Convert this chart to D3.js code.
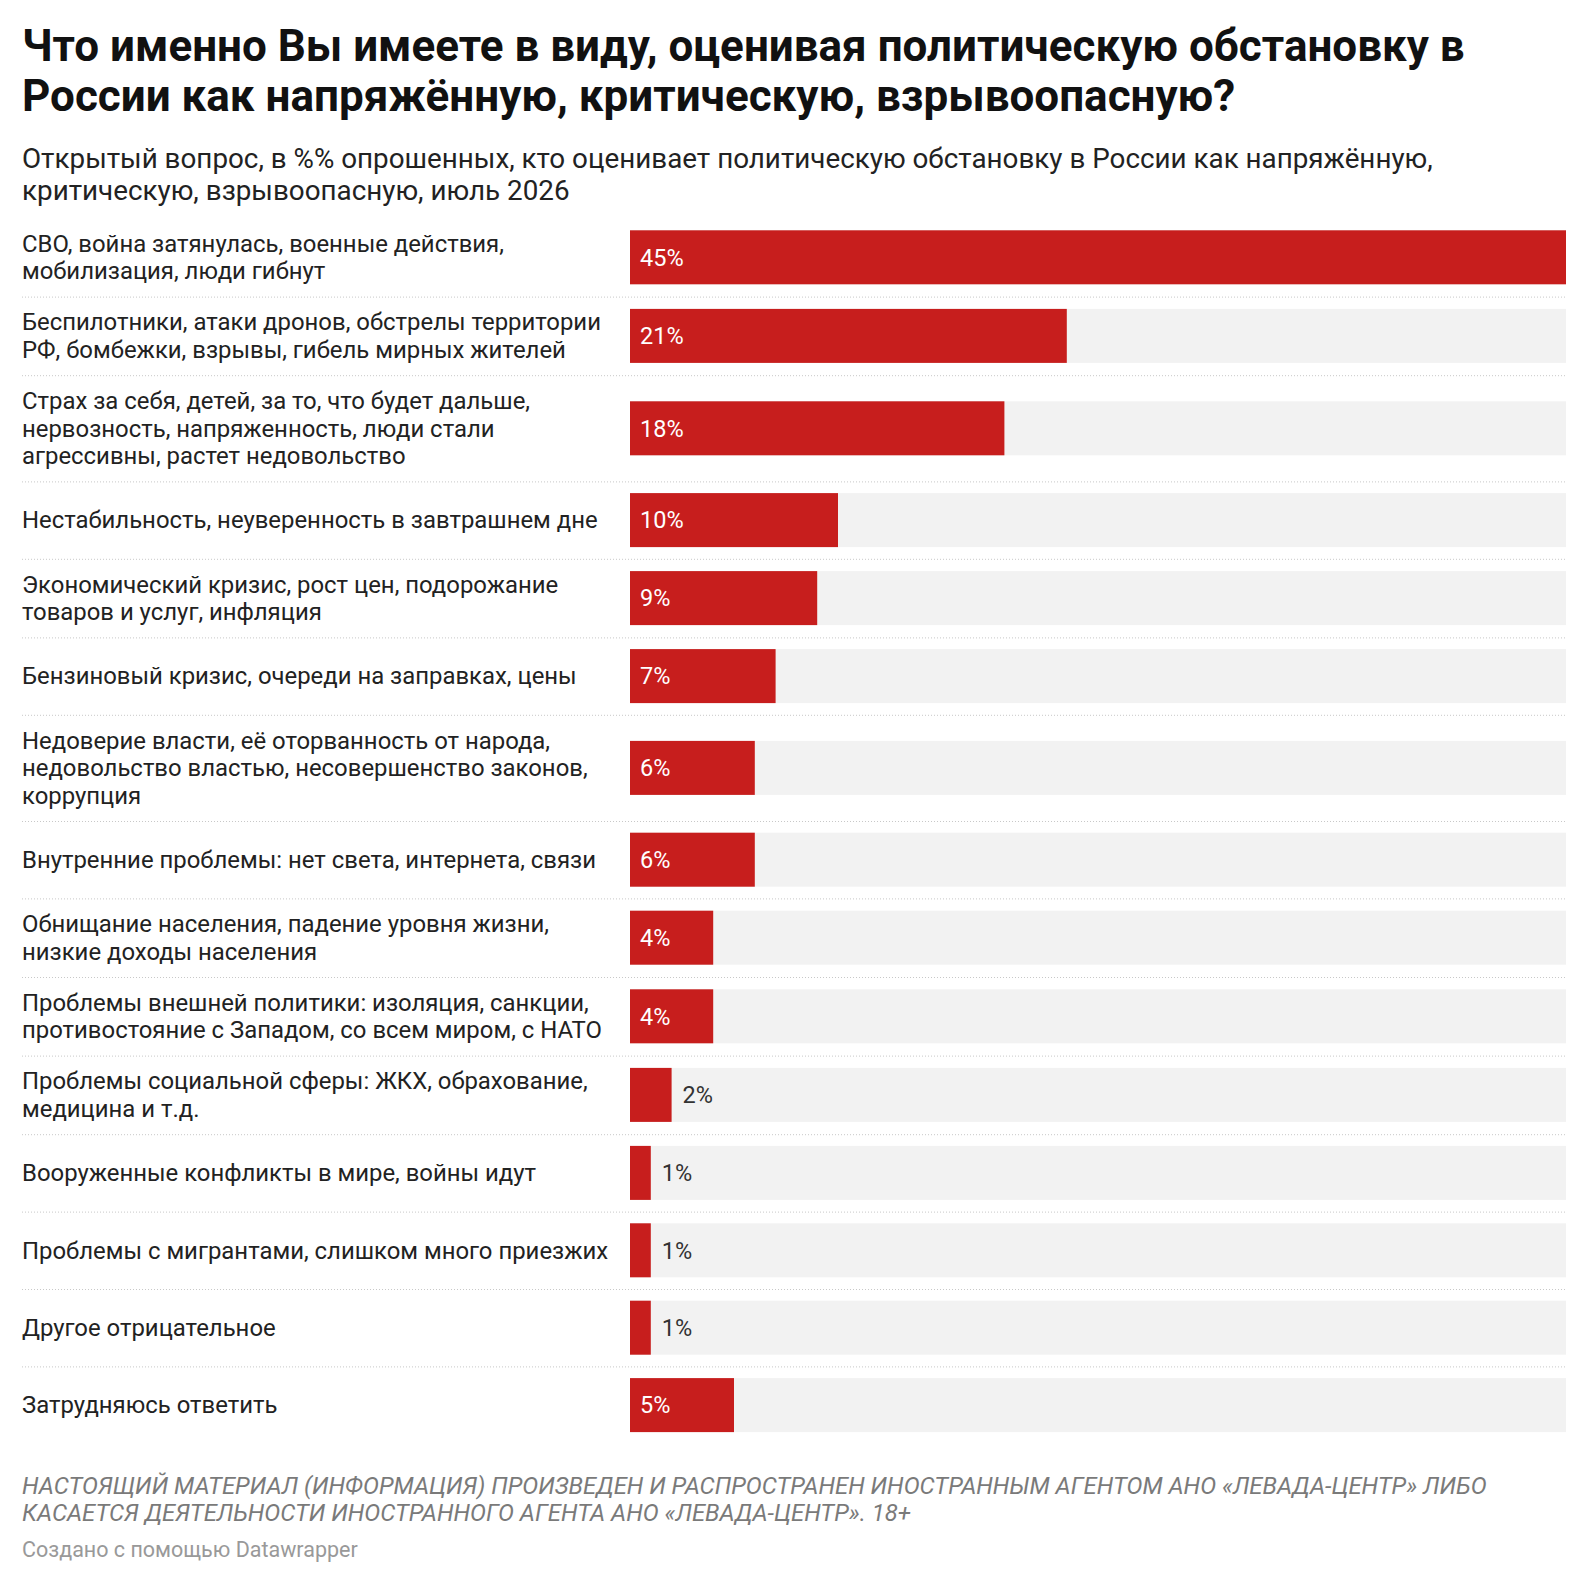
<!DOCTYPE html>
<html>
<head>
<meta charset="utf-8">
<script src="https://cdn.jsdelivr.net/npm/d3@7"></script>
<style>
  body { margin: 0; background: #fff; }
  svg { display: block; }
</style>
</head>
<body>
<div id="chart"></div>
<script>

// categories, each split into the lines shown in the label column
var categories = [
	["СВО, война затянулась, военные действия,", "мобилизация, люди гибнут"],
	["Беспилотники, атаки дронов, обстрелы территории", "РФ, бомбежки, взрывы, гибель мирных жителей"],
	["Страх за себя, детей, за то, что будет дальше,", "нервозность, напряженность, люди стали", "агрессивны, растет недовольство"],
	["Нестабильность, неуверенность в завтрашнем дне"],
	["Экономический кризис, рост цен, подорожание", "товаров и услуг, инфляция"],
	["Бензиновый кризис, очереди на заправках, цены"],
	["Недоверие власти, её оторванность от народа,", "недовольство властью, несовершенство законов,", "коррупция"],
	["Внутренние проблемы: нет света, интернета, связи"],
	["Обнищание населения, падение уровня жизни,", "низкие доходы населения"],
	["Проблемы внешней политики: изоляция, санкции,", "противостояние с Западом, со всем миром, с НАТО"],
	["Проблемы социальной сферы: ЖКХ, обрахование,", "медицина и т.д."],
	["Вооруженные конфликты в мире, войны идут"],
	["Проблемы с мигрантами, слишком много приезжих"],
	["Другое отрицательное"],
	["Затрудняюсь ответить"]
];
var values = [45, 21, 18, 10, 9, 7, 6, 6, 4, 4, 2, 1, 1, 1, 5];

var titleLines = [
	"Что именно Вы имеете в виду, оценивая политическую обстановку в",
	"России как напряжённую, критическую, взрывоопасную?"
];
var subtitleLines = [
	"Открытый вопрос, в %% опрошенных, кто оценивает политическую обстановку в России как напряжённую,",
	"критическую, взрывоопасную, июль 2026"
];
var noteLines = [
	"НАСТОЯЩИЙ МАТЕРИАЛ (ИНФОРМАЦИЯ) ПРОИЗВЕДЕН И РАСПРОСТРАНЕН ИНОСТРАННЫМ АГЕНТОМ АНО «ЛЕВАДА-ЦЕНТР» ЛИБО",
	"КАСАЕТСЯ ДЕЯТЕЛЬНОСТИ ИНОСТРАННОГО АГЕНТА АНО «ЛЕВАДА-ЦЕНТР». 18+"
];
var creditText = "Создано с помощью Datawrapper";

var W = 1588, H = 1586;
var left = 22, barLeft = 630, barRight = 1566;
var barH = 54, lineH = 27.6, rowPad = 23.4;
var font = "Roboto, 'Noto Sans', sans-serif";

var svg = d3.select("#chart").append("svg")
	.attr("width", W)
	.attr("height", H)
	.attr("font-family", font);

// title + subtitle
svg.append("g").selectAll("text")
	.data(titleLines)
	.join("text")
	.attr("x", left)
	.attr("y", function(d, i){ return 61 + i * 50; })
	.attr("font-size", 44)
	.attr("font-weight", 700)
	.attr("fill", "#111")
	.text(function(d){ return d; });

svg.append("g").selectAll("text")
	.data(subtitleLines)
	.join("text")
	.attr("x", left)
	.attr("y", function(d, i){ return 168 + i * 31.5; })
	.attr("font-size", 27.8)
	.attr("fill", "#222")
	.text(function(d){ return d; });

// row layout depends on the number of label lines
var rows = [];
var y0 = 218;
categories.forEach(function(c, i){
	var h = Math.max(barH, c.length * lineH) + rowPad;
	rows.push({ label: c, value: values[i], top: y0, h: h });
	y0 += h;
});

var x = d3.scaleLinear()
	.domain([0, d3.max(values)])
	.range([0, barRight - barLeft]);

var row = svg.append("g").selectAll("g")
	.data(rows)
	.join("g")
	.attr("transform", function(d){ return "translate(0," + d.top + ")"; });

// dotted separators between rows
row.filter(function(d, i){ return i > 0; })
	.append("line")
	.attr("x1", left)
	.attr("x2", barRight)
	.attr("y1", 0.5)
	.attr("y2", 0.5)
	.attr("stroke", "#c8c8c8")
	.attr("stroke-width", 1)
	.attr("stroke-dasharray", "1,2");

// background track + bar
row.append("rect")
	.attr("x", barLeft)
	.attr("y", function(d){ return (d.h - barH) / 2; })
	.attr("width", x(d3.max(values)))
	.attr("height", barH)
	.attr("fill", "#f2f2f2");

row.append("rect")
	.attr("x", barLeft)
	.attr("y", function(d){ return (d.h - barH) / 2; })
	.attr("width", function(d){ return x(d.value); })
	.attr("height", barH)
	.attr("fill", "#c71e1d");

// category labels, vertically centred on the bar
row.append("text")
	.attr("font-size", 23.9)
	.attr("fill", "#222")
	.each(function(d){
		var n = d.label.length;
		var firstY = d.h / 2 - (n - 1) * lineH / 2;
		d3.select(this).selectAll("tspan")
			.data(d.label)
			.join("tspan")
			.attr("x", left)
			.attr("y", function(t, j){ return firstY + j * lineH; })
			.attr("dy", "0.35em")
			.text(function(t){ return t; });
	});

// value labels: inside the bar when it fits, otherwise after it
row.append("text")
	.attr("font-size", 23.5)
	.attr("y", function(d){ return d.h / 2; })
	.attr("dy", "0.35em")
	.text(function(d){ return d.value + "%"; })
	.each(function(d){
		var tw = this.getComputedTextLength();
		var inside = x(d.value) > tw + 20;
		d3.select(this)
			.attr("x", inside ? barLeft + 10 : barLeft + x(d.value) + 11)
			.attr("fill", inside ? "#fff" : "#333");
	});

// footer notes
svg.append("g").selectAll("text")
	.data(noteLines)
	.join("text")
	.attr("x", left)
	.attr("y", function(d, i){ return 1494 + i * 27; })
	.attr("font-size", 23.9)
	.attr("font-style", "italic")
	.attr("fill", "#7a7a7a")
	.text(function(d){ return d; });

svg.append("text")
	.attr("x", left)
	.attr("y", 1557)
	.attr("font-size", 21.5)
	.attr("fill", "#999")
	.text(creditText);

</script>
</body>
</html>
